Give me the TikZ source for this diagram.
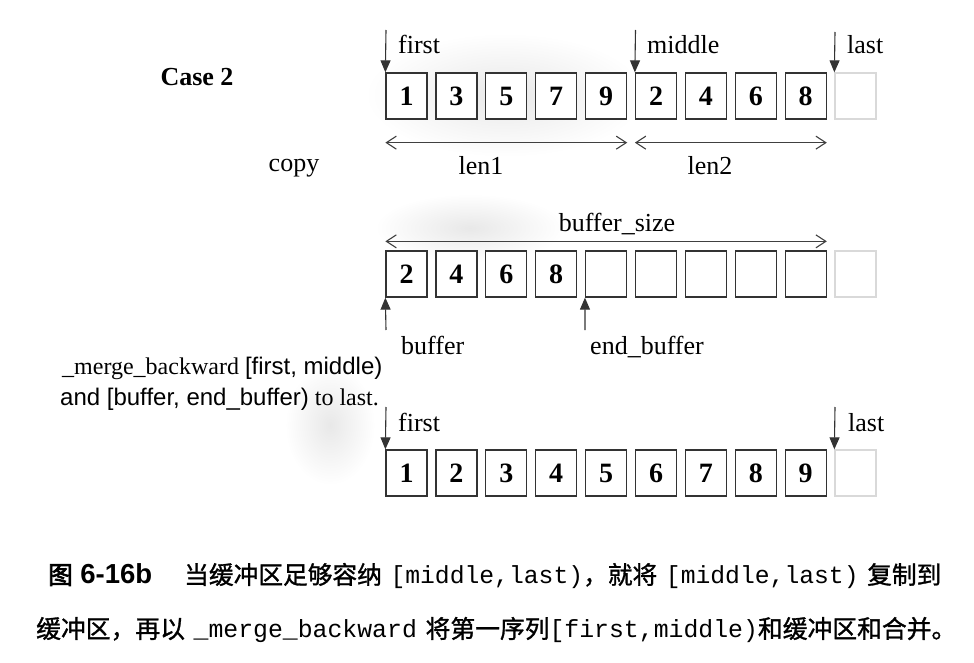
\documentclass[tikz,border=0pt]{standalone}
\usepackage{fontspec}
\setmainfont{Liberation Serif}
\newfontfamily\arialf{Liberation Sans}
\newfontfamily\monof{Liberation Mono}
\newfontfamily\cjkf{Noto Sans CJK SC}[FakeBold=1.2]
\newfontfamily\cjkb{Noto Sans CJK SC}[FakeBold=3]
\usetikzlibrary{arrows.meta}

\begin{document}
\begin{tikzpicture}[x=1pt,y=-1pt,
  cell/.style={draw=black!80, line width=1.3pt, minimum width=41pt, minimum height=46pt,
    inner sep=0pt, font=\fontsize{28}{30}\selectfont\bfseries},
  ghost/.style={cell, draw=black!15},
  lbl/.style={font=\fontsize{26}{30}\selectfont, inner sep=0pt},
  ptr/.style={draw=black!80, line width=1.1pt, -{Triangle[length=12pt,width=10pt]}},
  span/.style={draw=black!75, line width=1.1pt,
    {Straight Barb[length=10pt,width=13pt]}-{Straight Barb[length=10pt,width=13pt]}},
  txt/.style={inner sep=0pt, anchor=west},
  smudge/.style={inner color=black!9, outer color=white}
]
\useasboundingbox (0,0) rectangle (974,663);

% faint scan smudges
\shade[smudge] (505,95) ellipse [x radius=140pt, y radius=62pt];
\shade[smudge] (470,228) ellipse [x radius=95pt, y radius=34pt];
\shade[smudge] (330,425) ellipse [x radius=45pt, y radius=60pt];

% ---------- row 1 ----------
\foreach \v [count=\i] in {1,3,5,7,9,2,4,6,8}
  \node[cell, fill=white] (a\i) at ({406.5+49.9*(\i-1)},96) {\v};
\node[ghost, fill=white] (a10) at (855.5,96) {};

\node[font=\fontsize{26}{30}\selectfont\bfseries, inner sep=0pt] (case) at (197,77) {Case 2};
\node[lbl] (copy) at (294,168) {copy};

\coordinate (pfirst) at (386,30);
\coordinate (pmid) at (635.5,30);
\coordinate (plast) at (835,32);
\draw[ptr] (pfirst) -- (a1.north west);
\draw[ptr] (pmid) -- (a6.north west);
\draw[ptr] (plast) -- (a10.north west);
\node[lbl, anchor=base west] (lfirst) at (398,54) {first};
\node[lbl, anchor=base west] (lmid) at (647,54) {middle};
\node[lbl, anchor=base west] (llast) at (847,54) {last};

\draw[span] ([yshift=-23pt]a1.south west) -- ([yshift=-23pt]a5.south east);
\draw[span] ([yshift=-23pt]a6.south west) -- ([yshift=-23pt]a9.south east);
\node[lbl] (len1) at (481,166) {len1};
\node[lbl] (len2) at (710,166) {len2};

% ---------- row 2 ----------
\foreach \v [count=\i] in {2,4,6,8,{},{},{},{},{}}
  \node[cell, fill=white] (b\i) at ({406.5+49.9*(\i-1)},274) {\v};
\node[ghost, fill=white] (b10) at (855.5,274) {};

\draw[span] ([yshift=9pt]b1.north west) -- ([yshift=9pt]b9.north east);
\node[lbl] (bsize) at (617,224) {buffer\_size};

\coordinate (pbuf) at (386,330);
\coordinate (pend) at (585,330);
\draw[ptr] (pbuf) -- (b1.south west);
\draw[ptr] (pend) -- (b5.south west);
\node[lbl, anchor=base west] (lbuf) at (401,354) {buffer};
\node[lbl, anchor=base west] (lend) at (590,354) {end\_buffer};

% ---------- row 3 ----------
\foreach \v [count=\i] in {1,2,3,4,5,6,7,8,9}
  \node[cell, fill=white] (c\i) at ({406.5+49.9*(\i-1)},473) {\v};
\node[ghost, fill=white] (c10) at (855.5,473) {};

\coordinate (qfirst) at (386,407);
\coordinate (qlast) at (835,407);
\draw[ptr] (qfirst) -- (c1.north west);
\draw[ptr] (qlast) -- (c10.north west);
\node[lbl, anchor=base west] (mfirst) at (398,431) {first};
\node[lbl, anchor=base west] (mlast) at (848,431) {last};

\node[txt, font=\fontsize{24}{28}\selectfont] (note1) at (62,368)
  {\_merge\_backward {\arialf [first, middle)}};
\node[txt, font=\fontsize{24}{28}\selectfont] (note2) at (60,399)
  {{\arialf and [buffer, end\_buffer)} to last.};

% ---------- caption ----------
\node[txt, font=\cjkf\fontsize{24.7}{28}\selectfont] (cap1) at (48,576)
  {{\cjkb 图}\hspace{0.3em}{\arialf\bfseries\fontsize{27.5}{28}\selectfont 6-16b}\hspace{1.3em}当缓冲区足够容纳\hspace{0.35em}{\monof [middle,last)}，就将\hspace{0.35em}{\monof [middle,last)}\hspace{0.35em}复制到};
\node[txt, font=\cjkf\fontsize{24.8}{28}\selectfont] (cap2) at (36,630)
  {缓冲区，再以\hspace{0.35em}{\monof \_merge\_backward}\hspace{0.35em}将第一序列{\monof [first,middle)}和缓冲区和合并。};
\end{tikzpicture}
\end{document}
